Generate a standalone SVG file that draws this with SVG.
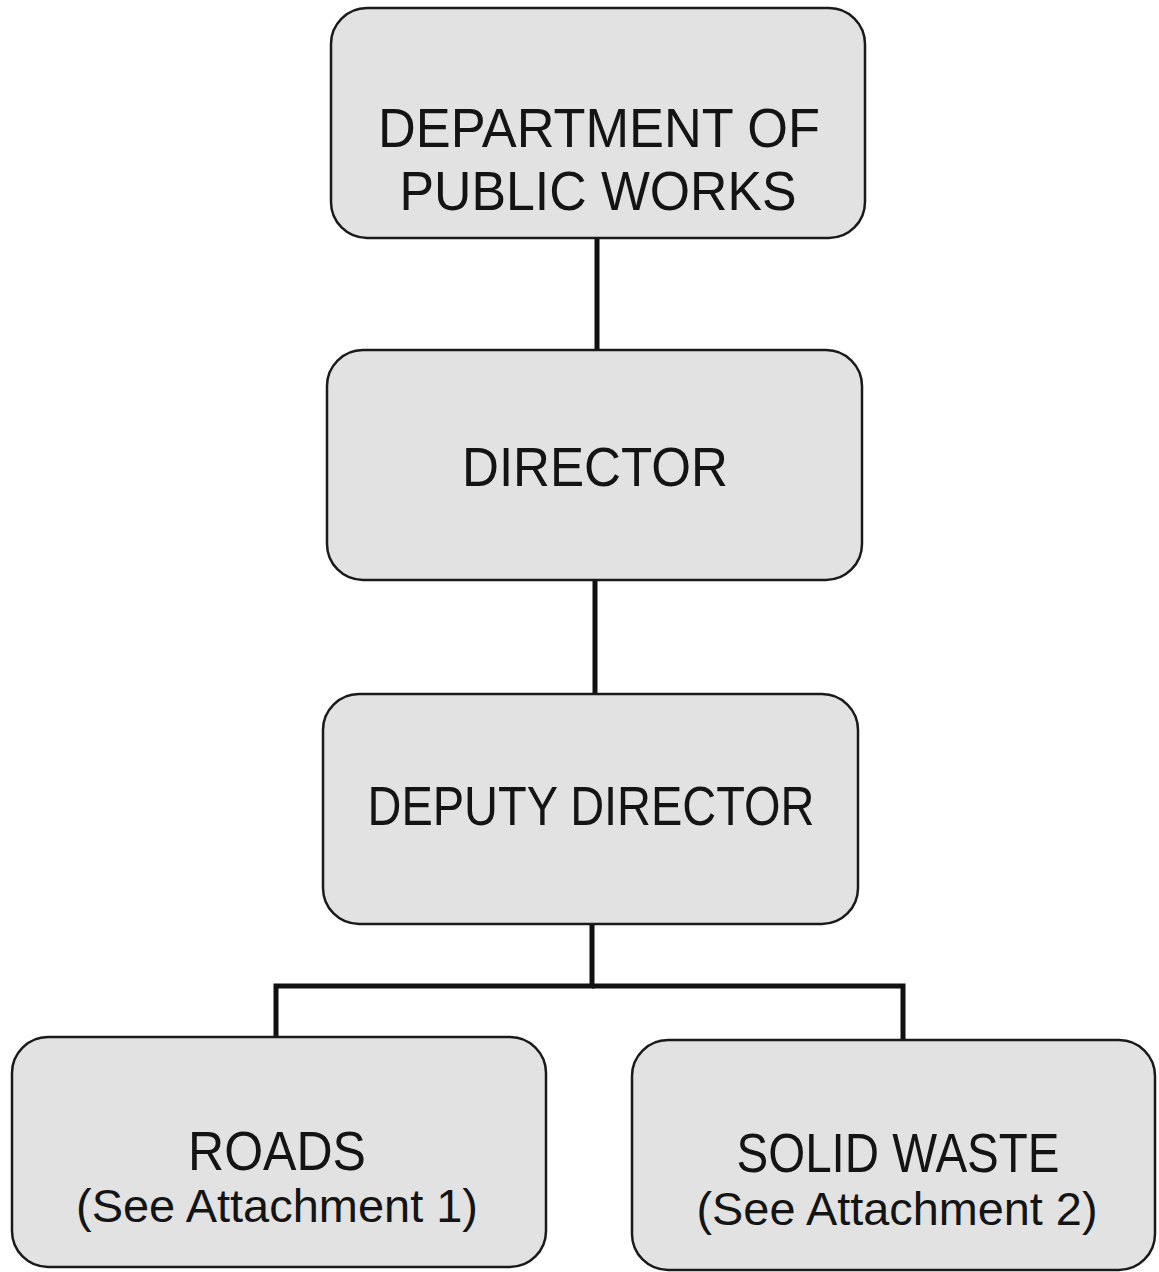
<svg xmlns="http://www.w3.org/2000/svg" width="1159" height="1272" viewBox="0 0 1159 1272">
<style>
.box{fill:#e2e2e2;stroke:#1a1a1a;stroke-width:2.5}
.t{font-family:"Liberation Sans",Arial,sans-serif;fill:#141414;text-anchor:middle;font-size:56px}
.s{font-size:46px}
.c{fill:none;stroke:#111;stroke-width:5;stroke-linejoin:miter}
</style>
<rect width="1159" height="1272" fill="#fff"/>
<g id="connectors">
<line class="c" x1="597" y1="238" x2="597" y2="351"/>
<line class="c" x1="595" y1="580" x2="595" y2="695"/>
<polyline class="c" points="592,924 592,986 276,986 276,1038"/>
<polyline class="c" points="592,986 903,986 903,1041"/>
</g>
<g id="n-dpw">
<rect class="box" x="331" y="8" width="534" height="230" rx="36"/>
<text class="t" x="599" y="147" textLength="442" lengthAdjust="spacingAndGlyphs">DEPARTMENT OF</text>
<text class="t" x="598" y="210" textLength="397" lengthAdjust="spacingAndGlyphs">PUBLIC WORKS</text>
</g>
<g id="n-director">
<rect class="box" x="327" y="350" width="535" height="230" rx="36"/>
<text class="t" x="595" y="486" textLength="266" lengthAdjust="spacingAndGlyphs">DIRECTOR</text>
</g>
<g id="n-deputy">
<rect class="box" x="323" y="694" width="535" height="230" rx="36"/>
<text class="t" x="591" y="825" textLength="447" lengthAdjust="spacingAndGlyphs">DEPUTY DIRECTOR</text>
</g>
<g id="n-roads">
<rect class="box" x="12" y="1037" width="534" height="230" rx="36"/>
<text class="t" x="277" y="1170" textLength="178" lengthAdjust="spacingAndGlyphs">ROADS</text>
<text class="t s" x="277" y="1222" textLength="402" lengthAdjust="spacingAndGlyphs">(See Attachment 1)</text>
</g>
<g id="n-solid">
<rect class="box" x="632" y="1040" width="523" height="230" rx="36"/>
<text class="t" x="898" y="1172" textLength="323" lengthAdjust="spacingAndGlyphs">SOLID WASTE</text>
<text class="t s" x="897" y="1225" textLength="401" lengthAdjust="spacingAndGlyphs">(See Attachment 2)</text>
</g>
</svg>
